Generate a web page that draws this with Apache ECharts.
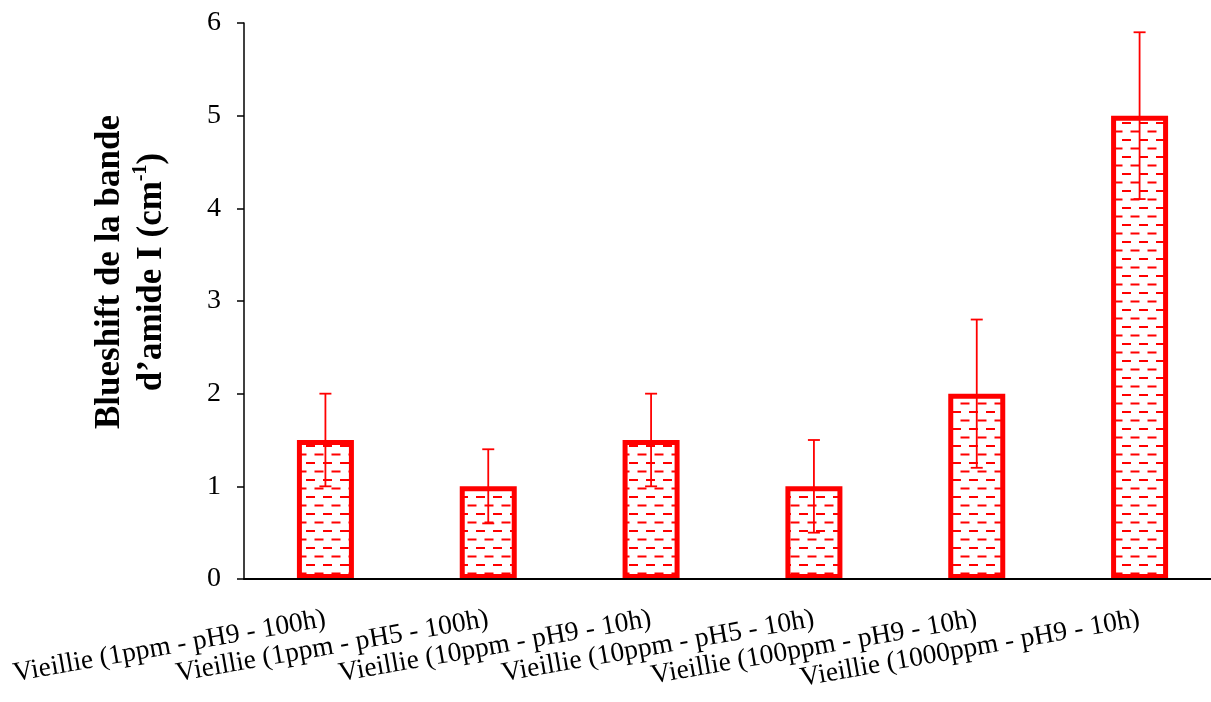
<!DOCTYPE html>
<html>
<head>
<meta charset="utf-8">
<script src="https://cdn.jsdelivr.net/npm/echarts@6/dist/echarts.min.js"></script>
<style>
html,body{margin:0;padding:0;background:#fff;}
#main{width:1211px;height:702px;}
</style>
</head>
<body>
<div id="main"></div>
<script>
var categories = [
  'Vieillie (1ppm - pH9 - 100h)',
  'Vieillie (1ppm - pH5 - 100h)',
  'Vieillie (10ppm - pH9 - 10h)',
  'Vieillie (10ppm - pH5 - 10h)',
  'Vieillie (100ppm - pH9 - 10h)',
  'Vieillie (1000ppm - pH9 - 10h)'
];
var values = [1.5, 1.0, 1.5, 1.0, 2.0, 5.0];
var errors = [0.5, 0.4, 0.5, 0.5, 0.8, 0.9];
var yTicks = [0, 1, 2, 3, 4, 5, 6];

// dashed pattern fill
var pc = document.createElement('canvas');
pc.width = 17; pc.height = 17;
var g = pc.getContext('2d');
g.fillStyle = '#fff'; g.fillRect(0, 0, 17, 17);
g.fillStyle = '#ff0000';
g.fillRect(0, 3, 9, 2);
g.fillRect(8.5, 11.5, 9, 2);
g.fillRect(0, 11.5, 0.5, 2);

var chart = echarts.init(document.getElementById('main'), null, {renderer: 'canvas'});
var errData = values.map(function (v, i) { return [i, v - errors[i], v + errors[i]]; });

chart.setOption({
  animation: false,
  backgroundColor: '#fff',
  grid: {left: 244, width: 977, top: 23, bottom: 123, containLabel: false, outerBoundsMode: 'none'},
  xAxis: {
    type: 'category',
    data: categories,
    z: 5,
    axisLine: {lineStyle: {color: '#000', width: 2}},
    axisTick: {show: false},
    axisLabel: {
      rotate: 10, interval: 0, margin: 40,
      fontFamily: 'Liberation Serif', fontSize: 27.5, color: '#000'
    }
  },
  yAxis: {
    type: 'value',
    min: 0, max: 6, interval: 1,
    splitLine: {show: false},
    axisLine: {show: true, lineStyle: {color: '#000', width: 1.5}},
    axisTick: {show: true, inside: false, length: 7, lineStyle: {color: '#000', width: 1.5}},
    axisLabel: {
      margin: 23, fontFamily: 'Liberation Serif', fontSize: 28, color: '#000',
      formatter: function (v) { return yTicks.indexOf(v) >= 0 ? String(v) : ''; }
    }
  },
  graphic: [{
    type: 'text',
    x: 131, y: 272,
    rotation: Math.PI / 2,
    style: {
      text: '{b|Blueshift de la bande}\n{b|d\u2019amide I (cm}{s|-1}{b|)}',
      align: 'center', verticalAlign: 'middle',
      fill: '#000',
      lineHeight: 42,
      rich: {
        b: {fontFamily: 'Liberation Serif', fontWeight: 'bold', fontSize: 35, lineHeight: 42, fill: '#000'},
        s: {fontFamily: 'Liberation Serif', fontWeight: 'bold', fontSize: 20, verticalAlign: 'top', lineHeight: 30, fill: '#000'}
      }
    }
  }],
  series: [{
    type: 'bar',
    data: values,
    barWidth: 57,
    itemStyle: {
      color: {image: pc, repeat: 'repeat'},
      borderColor: '#ff0000',
      borderWidth: 5
    },
    z: 2
  }, {
    type: 'custom',
    data: errData,
    z: 3,
    renderItem: function (params, api) {
      var lo = api.coord([api.value(0), api.value(1)]);
      var hi = api.coord([api.value(0), api.value(2)]);
      var hw = 6;
      var st = {stroke: '#ff0000', lineWidth: 1.8};
      return {
        type: 'group',
        children: [
          {type: 'line', shape: {x1: hi[0], y1: hi[1], x2: lo[0], y2: lo[1]}, style: st},
          {type: 'line', shape: {x1: hi[0] - hw, y1: hi[1], x2: hi[0] + hw, y2: hi[1]}, style: st},
          {type: 'line', shape: {x1: lo[0] - hw, y1: lo[1], x2: lo[0] + hw, y2: lo[1]}, style: st}
        ]
      };
    }
  }]
});
</script>
</body>
</html>
